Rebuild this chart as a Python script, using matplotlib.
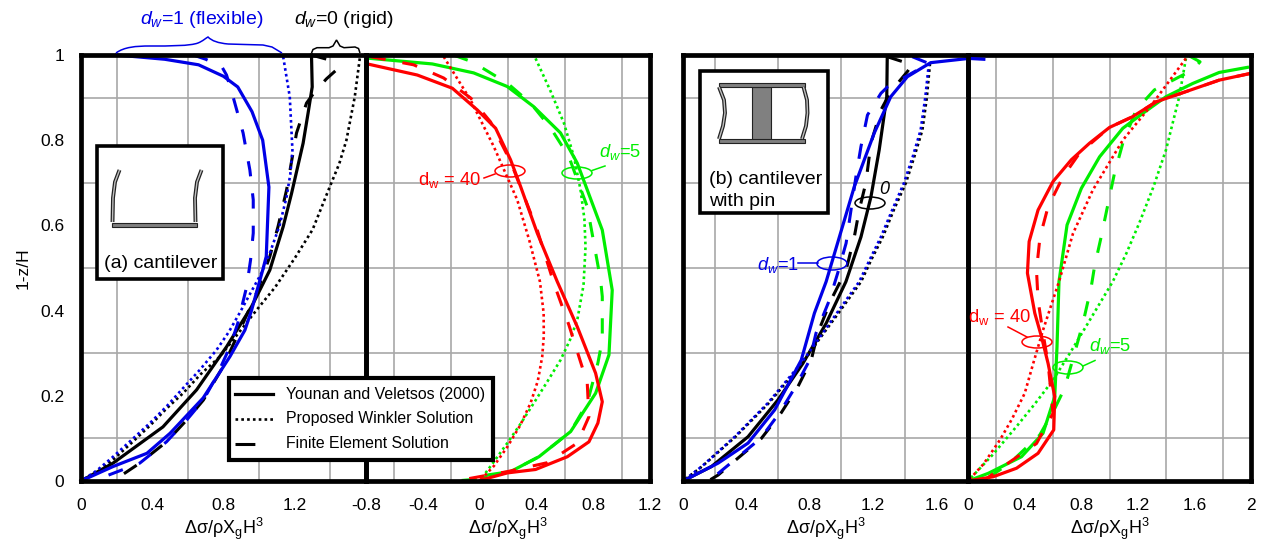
import matplotlib
matplotlib.use('Agg')
import matplotlib.pyplot as plt
import matplotlib.patches as mpatches
from matplotlib.path import Path

plt.rcParams['font.family'] = ['Liberation Sans', 'DejaVu Sans']
plt.rcParams['mathtext.fontset'] = 'custom'
plt.rcParams['mathtext.rm'] = 'Liberation Sans'
plt.rcParams['mathtext.it'] = 'Liberation Sans:italic'
plt.rcParams['mathtext.bf'] = 'Liberation Sans:bold'

W, H = 1265, 546

# panel (a), left part: dw=0 and dw=1
a_blue_solid_x = [0.2, 0.47, 0.66, 0.8, 0.88, 0.96, 1.02, 1.055, 1.04, 1.02, 0.957, 0.92, 0.836, 0.686, 0.5, 0.37, 0.18, 0]
a_blue_solid_y = [1, 0.99, 0.977, 0.95, 0.925, 0.867, 0.8, 0.69, 0.527, 0.495, 0.4, 0.354, 0.292, 0.195, 0.112, 0.065, 0.034, 0]
a_blue_dash_x = [0.63, 0.7, 0.79, 0.817, 0.855, 0.91, 0.948, 0.967, 0.967, 0.952, 0.93, 0.88, 0.836, 0.76, 0.687, 0.593, 0.48, 0.33, 0.068]
a_blue_dash_y = [1, 0.99, 0.973, 0.953, 0.9, 0.817, 0.73, 0.66, 0.582, 0.519, 0.456, 0.37, 0.315, 0.245, 0.19, 0.143, 0.092, 0.042, 0]
a_blue_dot_x = [1.135, 1.172, 1.187, 1.175, 1.154, 1.115, 1.06, 1.013, 0.95, 0.89, 0.83, 0.76, 0.665, 0.573, 0.48, 0.387, 0.28, 0.18, 0.09, 0]
a_blue_dot_y = [0.996, 0.902, 0.777, 0.72, 0.667, 0.6, 0.535, 0.488, 0.44, 0.394, 0.35, 0.307, 0.26, 0.218, 0.175, 0.136, 0.095, 0.057, 0.025, 0]
a_black_solid_x = [1.294, 1.298, 1.275, 1.247, 1.182, 1.135, 1.06, 0.957, 0.817, 0.649, 0.46, 0.18, 0]
a_black_solid_y = [1, 0.925, 0.864, 0.793, 0.675, 0.597, 0.495, 0.409, 0.315, 0.214, 0.127, 0.042, 0]
a_black_dash_x = [1.294, 1.397, 1.434, 1.378, 1.313, 1.266, 1.21, 1.154, 1.106, 1.06, 0.985, 0.892, 0.797, 0.687, 0.593, 0.48, 0.33, 0.18]
a_black_dash_y = [1, 0.988, 0.965, 0.944, 0.914, 0.887, 0.817, 0.683, 0.597, 0.527, 0.441, 0.354, 0.268, 0.19, 0.143, 0.092, 0.042, 0]
a_black_dot_x = [1.565, 1.537, 1.49, 1.45, 1.397, 1.3, 1.2, 1.09, 0.985, 0.88, 0.78, 0.67, 0.573, 0.48, 0.387, 0.28, 0.18, 0.09, 0]
a_black_dot_y = [0.992, 0.902, 0.8, 0.745, 0.691, 0.59, 0.523, 0.455, 0.401, 0.345, 0.292, 0.25, 0.206, 0.17, 0.13, 0.088, 0.05, 0.022, 0]

# panel (a), right part: dw=5 and dw=40
a_red_solid_x = [-0.79, -0.439, -0.192, -0.016, 0.113, 0.218, 0.289, 0.406, 0.547, 0.688, 0.817, 0.864, 0.833, 0.77, 0.618, 0.394, 0.195, 0.007]
a_red_solid_y = [0.979, 0.953, 0.922, 0.871, 0.828, 0.754, 0.691, 0.582, 0.468, 0.362, 0.253, 0.186, 0.136, 0.092, 0.057, 0.027, 0.019, 0.002]
a_red_dash_x = [-0.768, -0.465, -0.253, -0.063, 0.077, 0.218, 0.406, 0.523, 0.629, 0.758, 0.77, 0.688, 0.477, 0.195, -0.169]
a_red_dash_y = [0.996, 0.977, 0.946, 0.899, 0.843, 0.75, 0.589, 0.464, 0.366, 0.23, 0.151, 0.089, 0.043, 0.022, 0]
a_red_dot_x = [-0.253, -0.063, 0.1, 0.265, 0.35, 0.425, 0.451, 0.452, 0.441, 0.41, 0.359, 0.285, 0.195, 0.1, 0]
a_red_dot_y = [0.996, 0.894, 0.785, 0.66, 0.565, 0.468, 0.394, 0.34, 0.292, 0.235, 0.183, 0.13, 0.08, 0.035, 0]
a_green_solid_x = [-0.768, -0.333, -0.042, 0.195, 0.38, 0.57, 0.688, 0.864, 0.934, 0.911, 0.817, 0.641, 0.418, 0.218, 0.054, 0]
a_green_solid_y = [0.992, 0.979, 0.958, 0.926, 0.879, 0.817, 0.746, 0.589, 0.448, 0.296, 0.206, 0.116, 0.057, 0.022, 0.014, 0]
a_green_dash_x = [-0.185, -0.052, 0.195, 0.359, 0.5, 0.629, 0.758, 0.852, 0.864, 0.864, 0.833, 0.758, 0.641, 0.418, 0.218, 0, -0.169]
a_green_dash_y = [1, 0.984, 0.934, 0.887, 0.829, 0.761, 0.644, 0.472, 0.433, 0.331, 0.277, 0.183, 0.116, 0.057, 0.022, 0.005, 0]
a_green_dot_x = [0.394, 0.5, 0.594, 0.665, 0.711, 0.738, 0.746, 0.732, 0.688, 0.635, 0.57, 0.48, 0.382, 0.29, 0.195, 0.1, 0]
a_green_dot_y = [0.992, 0.915, 0.84, 0.76, 0.683, 0.615, 0.55, 0.46, 0.378, 0.33, 0.284, 0.235, 0.183, 0.135, 0.089, 0.045, 0]

# panel (b), left part: dw=0 and dw=1
b_black_solid_x = [1.29, 1.287, 1.239, 1.187, 1.124, 1.029, 0.904, 0.757, 0.599, 0.411, 0.18, 0]
b_black_solid_y = [0.996, 0.902, 0.777, 0.667, 0.573, 0.468, 0.37, 0.276, 0.19, 0.104, 0.034, 0]
b_black_dash_x = [1.29, 1.407, 1.447, 1.417, 1.312, 1.25, 1.187, 1.155, 1.113, 1.082, 1.03, 0.935, 0.851, 0.81, 0.725, 0.62, 0.495, 0.348, 0.222, 0.159]
b_black_dash_y = [0.996, 0.982, 0.977, 0.961, 0.914, 0.871, 0.793, 0.7, 0.636, 0.573, 0.495, 0.425, 0.347, 0.284, 0.221, 0.16, 0.1, 0.054, 0.014, 0]
b_blue_solid_x = [1.9, 1.805, 1.564, 1.417, 1.312, 1.208, 1.082, 0.904, 0.83, 0.747, 0.579, 0.411, 0.222, 0]
b_blue_solid_y = [0.99, 0.992, 0.982, 0.949, 0.902, 0.817, 0.691, 0.468, 0.394, 0.284, 0.167, 0.089, 0.042, 0]
b_blue_dash_x = [1.448, 1.553, 1.291, 1.25, 1.165, 1.124, 1.092, 1.061, 1.03, 0.977, 0.925, 0.84, 0.8, 0.71, 0.61, 0.49, 0.34, 0.21, 0.14]
b_blue_dash_y = [0.996, 0.98, 0.925, 0.91, 0.859, 0.785, 0.714, 0.636, 0.558, 0.488, 0.425, 0.347, 0.284, 0.221, 0.16, 0.1, 0.054, 0.014, 0]
b_blue_dot_x = [1.553, 1.53, 1.501, 1.45, 1.396, 1.32, 1.25, 1.18, 1.113, 0.956, 0.85, 0.747, 0.536, 0.327, 0.118, 0]
b_blue_dot_y = [0.98, 0.9, 0.824, 0.76, 0.7, 0.635, 0.573, 0.52, 0.468, 0.386, 0.33, 0.277, 0.183, 0.104, 0.034, 0]
b_black_dot_x = [1.56, 1.54, 1.512, 1.46, 1.408, 1.33, 1.262, 1.19, 1.125, 0.966, 0.855, 0.755, 0.542, 0.332, 0.12, 0]
b_black_dot_y = [0.98, 0.9, 0.824, 0.76, 0.7, 0.635, 0.573, 0.52, 0.468, 0.386, 0.33, 0.277, 0.183, 0.104, 0.034, 0]

# panel (b), right part: dw=5 and dw=40
b_green_solid_x = [1.975, 1.775, 1.587, 1.399, 1.235, 1.094, 0.93, 0.801, 0.7, 0.643, 0.629, 0.613, 0.53, 0.378, 0.143, 0]
b_green_solid_y = [0.971, 0.959, 0.933, 0.902, 0.863, 0.828, 0.761, 0.687, 0.601, 0.468, 0.315, 0.198, 0.112, 0.057, 0.018, 0]
b_green_dash_x = [1.563, 1.64, 1.587, 1.317, 1.188, 1.094, 1.035, 0.988, 0.941, 0.894, 0.871, 0.812, 0.753, 0.683, 0.613, 0.507, 0.296, 0.108]
b_green_dash_y = [0.998, 0.984, 0.965, 0.918, 0.871, 0.793, 0.722, 0.648, 0.573, 0.503, 0.456, 0.37, 0.3, 0.218, 0.17, 0.108, 0.042, 0]
b_green_dot_x = [1.54, 1.493, 1.399, 1.31, 1.211, 1.12, 1.023, 0.847, 0.72, 0.601, 0.47, 0.343, 0.17, 0]
b_green_dot_y = [0.992, 0.902, 0.777, 0.69, 0.606, 0.535, 0.468, 0.37, 0.3, 0.237, 0.18, 0.128, 0.06, 0]
b_red_dot_x = [1.54, 1.305, 1.094, 0.882, 0.742, 0.643, 0.53, 0.46, 0.401, 0.31, 0.225, 0.11, 0]
b_red_dot_y = [0.992, 0.886, 0.8, 0.683, 0.581, 0.468, 0.354, 0.275, 0.206, 0.145, 0.096, 0.04, 0]
b_red_solid_x = [2.0, 1.775, 1.54, 1.329, 1.162, 1.0, 0.859, 0.73, 0.601, 0.495, 0.432, 0.42, 0.472, 0.519, 0.566, 0.613, 0.606, 0.495, 0.343, 0.178, 0]
b_red_solid_y = [0.957, 0.941, 0.914, 0.89, 0.855, 0.83, 0.793, 0.754, 0.703, 0.636, 0.562, 0.488, 0.394, 0.339, 0.276, 0.198, 0.12, 0.065, 0.03, 0.01, 0]
b_red_dash_x = [2.0, 1.775, 1.54, 1.329, 1.162, 1.0, 0.789, 0.671, 0.566, 0.509, 0.484, 0.495, 0.53, 0.566, 0.601, 0.484, 0.249, 0.108]
b_red_dash_y = [0.957, 0.941, 0.914, 0.89, 0.855, 0.83, 0.77, 0.714, 0.644, 0.573, 0.495, 0.425, 0.347, 0.276, 0.159, 0.088, 0.034, 0]

y_ticks = [0, 0.2, 0.4, 0.6, 0.8, 1]
a_left_ticks = [0, 0.4, 0.8, 1.2]
a_right_ticks = [-0.8, -0.4, 0, 0.4, 0.8, 1.2]
b_left_ticks = [0, 0.4, 0.8, 1.2, 1.6]
b_right_ticks = [0, 0.4, 0.8, 1.2, 1.6, 2]
x_title = r'$\mathrm{\Delta\sigma/\rho X_g H^3}$'

RED = '#ff0000'
GREEN = '#00ee00'
BLUE = '#0000e6'
SOLID = dict(ls='-', lw=2.3)
DOT = dict(ls=(0, (1, 1.2)), lw=1.9)
DASH = dict(ls=(0, (5, 5.6)), lw=2.2)

fig = plt.figure(figsize=(W / 100, H / 100), dpi=100)


def make_panel(x0, x1, xlim, ticks):
    ax = fig.add_axes([x0 / W, 1 - 481 / H, (x1 - x0) / W, (481 - 55) / H])
    ax.set_xlim(*xlim)
    ax.set_ylim(0, 1)
    ax.patch.set_visible(False)
    n = int(round((xlim[1] - xlim[0]) / 0.2))
    ax.set_xticks([xlim[0] + 0.2 * i for i in range(n + 1)], minor=True)
    ax.set_yticks([0.1 * i for i in range(11)], minor=True)
    ax.grid(which='minor', color='#a8a8a8', lw=1.2)
    ax.set_axisbelow(True)
    ax.set_xticks(ticks)
    ax.set_xticklabels([f'{t:g}' for t in ticks], fontsize=12.5)
    ax.set_yticks(y_ticks)
    ax.set_yticklabels([])
    ax.tick_params(which='both', length=0)
    ax.tick_params(axis='x', pad=12)
    ax.set_xlabel(x_title, fontsize=13, labelpad=2)
    for s in ax.spines.values():
        s.set_linewidth(3.4)
    return ax


ax1 = make_panel(81, 366, (0, 1.6), a_left_ticks)
ax2 = make_panel(366, 650, (-0.8, 1.2), a_right_ticks)
ax3 = make_panel(683, 968, (0, 1.8), b_left_ticks)
ax4 = make_panel(968, 1251, (0, 2), b_right_ticks)
ax1.set_zorder(3)
ax3.set_zorder(3)

ax1.set_yticklabels([f'{t:g}' for t in y_ticks], fontsize=12.5)
ax1.tick_params(axis='y', pad=12)
ax1.set_ylabel('1-z/H', fontsize=12.5, labelpad=7)

# curves, black/green first so blue/red stay on top
ax1.plot(a_black_dot_x, a_black_dot_y, color='k', clip_on=False, **DOT)
ax1.plot(a_black_dash_x, a_black_dash_y, color='k', clip_on=False, **DASH)
ax1.plot(a_black_solid_x, a_black_solid_y, color='k', clip_on=False, **SOLID)
ax1.plot(a_blue_dot_x, a_blue_dot_y, color=BLUE, clip_on=False, **DOT)
ax1.plot(a_blue_dash_x, a_blue_dash_y, color=BLUE, clip_on=False, **DASH)
ax1.plot(a_blue_solid_x, a_blue_solid_y, color=BLUE, clip_on=False, **SOLID)

ax2.plot(a_green_dot_x, a_green_dot_y, color=GREEN, clip_on=False, **DOT)
ax2.plot(a_green_dash_x, a_green_dash_y, color=GREEN, clip_on=False, **DASH)
ax2.plot(a_green_solid_x, a_green_solid_y, color=GREEN, clip_on=False, **SOLID)
ax2.plot(a_red_dot_x, a_red_dot_y, color=RED, clip_on=False, **DOT)
ax2.plot(a_red_dash_x, a_red_dash_y, color=RED, clip_on=False, **DASH)
ax2.plot(a_red_solid_x, a_red_solid_y, color=RED, clip_on=False, **SOLID)

ax3.plot(b_black_dot_x, b_black_dot_y, color='k', clip_on=False, **DOT)
ax3.plot(b_black_dash_x, b_black_dash_y, color='k', clip_on=False, **DASH)
ax3.plot(b_black_solid_x, b_black_solid_y, color='k', clip_on=False, **SOLID)
ax3.plot(b_blue_dot_x, b_blue_dot_y, color=BLUE, clip_on=False, **DOT)
ax3.plot(b_blue_dash_x, b_blue_dash_y, color=BLUE, clip_on=False, **DASH)
ax3.plot(b_blue_solid_x, b_blue_solid_y, color=BLUE, clip_on=False, **SOLID)

ax4.plot(b_green_dot_x, b_green_dot_y, color=GREEN, clip_on=False, **DOT)
ax4.plot(b_green_dash_x, b_green_dash_y, color=GREEN, clip_on=False, **DASH)
ax4.plot(b_green_solid_x, b_green_solid_y, color=GREEN, clip_on=False, **SOLID)
ax4.plot(b_red_dot_x, b_red_dot_y, color=RED, clip_on=False, **DOT)
ax4.plot(b_red_dash_x, b_red_dash_y, color=RED, clip_on=False, **DASH)
ax4.plot(b_red_solid_x, b_red_solid_y, color=RED, clip_on=False, **SOLID)

# overlay in pixel coordinates for boxes, braces and callouts
ov = fig.add_axes([0, 0, 1, 1], zorder=10)
ov.set_xlim(0, W)
ov.set_ylim(H, 0)
ov.axis('off')
ov.patch.set_visible(False)


def box(x0, y0, x1, y1, lw=2.6):
    ov.add_patch(mpatches.Rectangle((x0, y0), x1 - x0, y1 - y0, fc='white', ec='k', lw=lw))


def callout(cx, cy, x0, y0, x1, y1, color, w=30, h=12):
    ov.add_patch(mpatches.Ellipse((cx, cy), w, h, fc='none', ec=color, lw=1.1))
    ov.plot([x0, x1], [y0, y1], color=color, lw=1.1)


def wall(xs, ys):
    ov.plot(xs, ys, color='#222222', lw=2.8, solid_capstyle='butt')
    ov.plot(xs, ys, color='#c0c0c0', lw=1.0, solid_capstyle='butt')


def curve(pts, color, lw=1.1):
    codes = [Path.MOVETO] + [Path.LINETO] * (len(pts) - 1)
    ov.add_patch(mpatches.PathPatch(Path(pts, codes), fc='none', ec=color, lw=lw))


# braces over panel (a)
codes = [Path.MOVETO] + [Path.CURVE4] * 12
blue_brace = [(116, 53), (124, 47), (136, 46), (150, 46), (170, 46), (190, 46), (198, 43),
              (203, 41), (206, 38), (208, 37), (212, 41), (218, 43), (228, 44)]
ov.add_patch(mpatches.PathPatch(Path(blue_brace, codes), fc='none', ec=BLUE, lw=1.1))
curve([(228, 44), (245, 44.5), (263, 45), (272, 47), (282, 53)], BLUE)
curve([(311.5, 53), (313, 49.5), (317, 47.7), (329, 47.7), (333, 46), (336.5, 40), (340, 46),
       (344, 47.7), (355, 47), (358.5, 48.5), (360, 53)], 'k')

ov.text(140, 20, r'$d_w$=1 (flexible)', color=BLUE, fontsize=14, va='center', ha='left')
ov.text(294, 20, r'$d_w$=0 (rigid)', color='k', fontsize=14, va='center', ha='left')

# inset (a)
box(97, 146, 223, 279)
wall([112.5, 113, 115, 119.5], [222, 198, 182, 170])
wall([195.5, 195, 197, 201.5], [222, 198, 182, 170])
ov.add_patch(mpatches.Rectangle((111.5, 222.5), 85, 4.5, fc='#808080', ec='#222222', lw=0.8))
ov.text(161, 264, '(a) cantilever', fontsize=14, ha='center', va='center')

# inset (b)
box(700, 71, 827.5, 213)
wall([719, 724, 725, 723, 719], [87, 100, 113, 126, 139])
wall([803.5, 807, 807.5, 806, 802], [87, 100, 113, 126, 139])
ov.add_patch(mpatches.Rectangle((751.5, 86.5), 19.5, 53, fc='#808080', ec='#222222', lw=0.8))
ov.add_patch(mpatches.Rectangle((718.5, 82.5), 86, 4.2, fc='#808080', ec='#222222', lw=0.8))
ov.add_patch(mpatches.Rectangle((718.5, 139), 86, 4.2, fc='#808080', ec='#222222', lw=0.8))
ov.text(709, 179, '(b) cantilever', fontsize=14, ha='left', va='center')
ov.text(709, 201, 'with pin', fontsize=14, ha='left', va='center')

# legend
box(228.5, 378, 493, 459.5, lw=3.0)
ov.plot([235, 273], [394, 394], color='k', **SOLID)
ov.plot([235, 273], [419, 419], color='k', ls=(0, (1, 1.2)), lw=1.9)
ov.plot([235, 273], [444, 444], color='k', ls=(0, (6.5, 7.5)), lw=2.2)
ov.text(286, 394, 'Younan and Veletsos (2000)', fontsize=11.4, va='center')
ov.text(286, 419, 'Proposed Winkler Solution', fontsize=11.4, va='center')
ov.text(286, 444, 'Finite Element Solution', fontsize=11.4, va='center')

# callouts
callout(510, 171, 484, 178, 495, 174, RED)
ov.text(418, 180, r'$\mathrm{d_w}$ = 40', color=RED, fontsize=13.2, va='center')
callout(577, 173, 592, 170.5, 605, 166, GREEN)
ov.text(599, 152, r'$d_w$=5', color=GREEN, fontsize=13.2, va='center')
callout(870, 203, 870, 203, 870, 203, 'k')
ov.text(884, 189, '0', color='k', style='italic', fontsize=13, ha='center', va='center')
callout(832, 263.5, 798, 263, 817.5, 263, BLUE, h=13)
ov.text(757, 265, r'$d_w$=1', color=BLUE, fontsize=13.2, va='center')
callout(1037, 342, 1008, 327, 1027, 337, RED)
ov.text(968, 317, r'$\mathrm{d_w}$ = 40', color=RED, fontsize=13.2, va='center')
callout(1068, 367.5, 1083, 366, 1095, 360.5, GREEN, h=13)
ov.text(1089, 346, r'$d_w$=5', color=GREEN, fontsize=13.2, va='center')

fig.savefig('out.png', dpi=100)
